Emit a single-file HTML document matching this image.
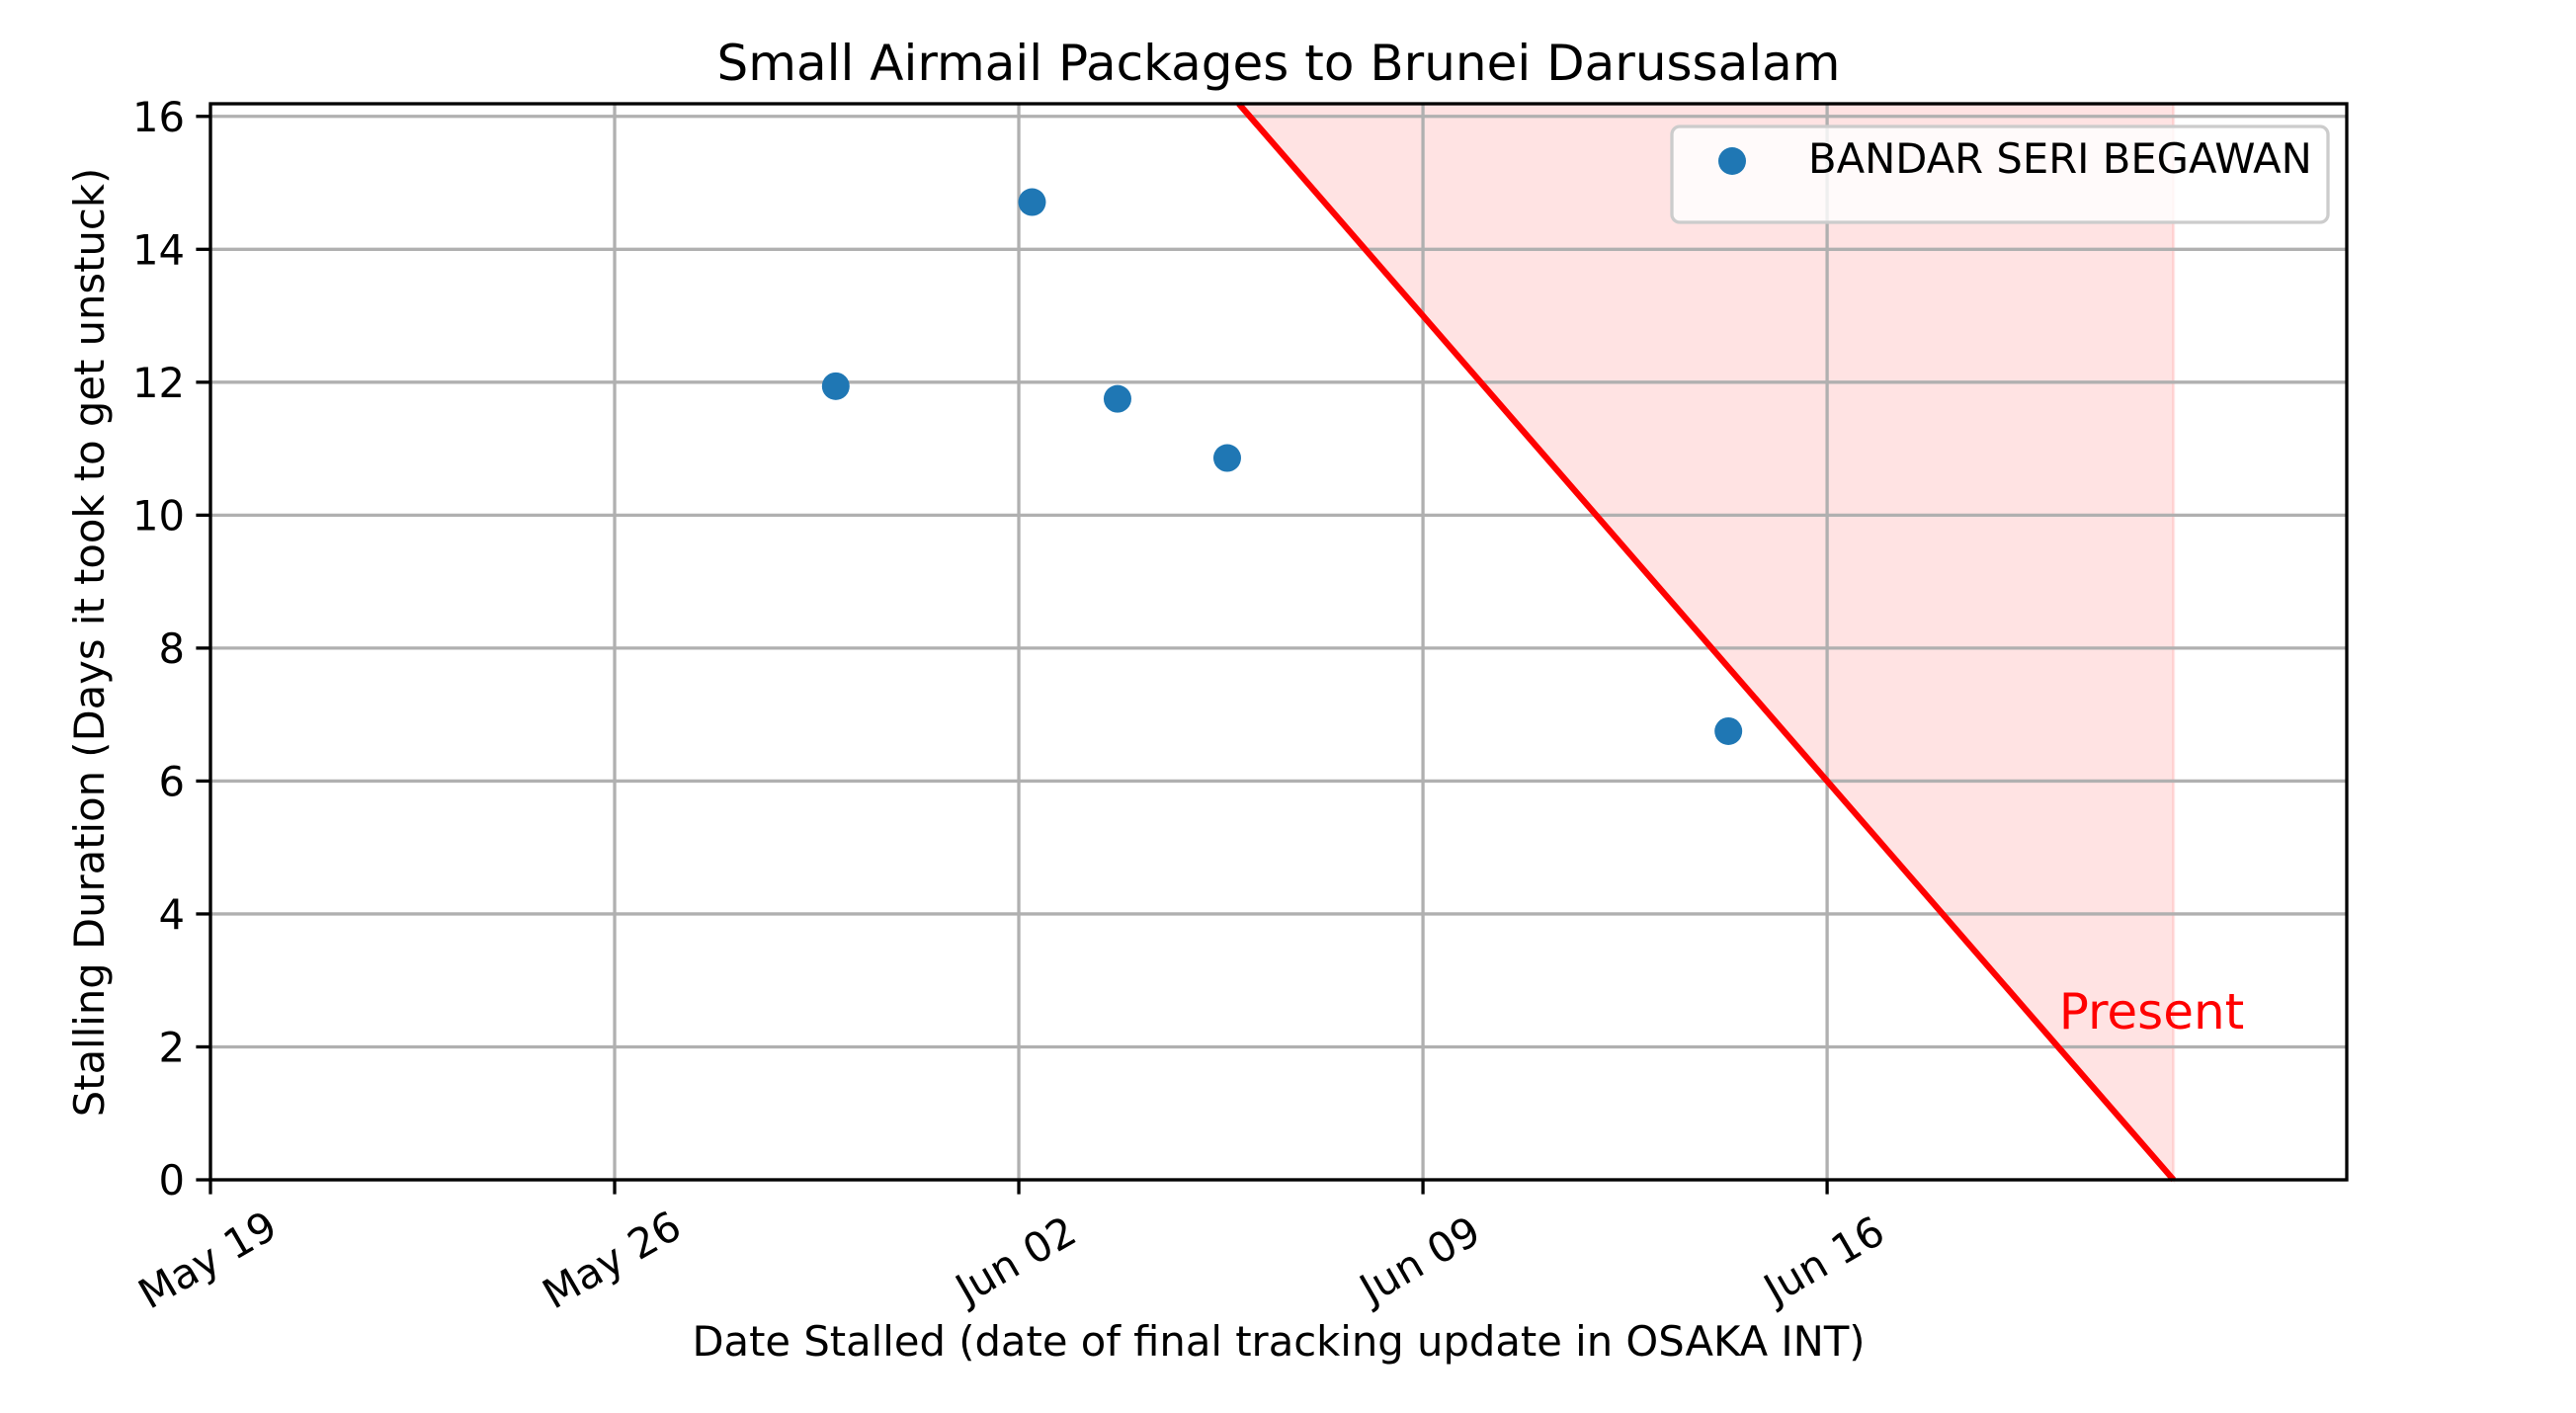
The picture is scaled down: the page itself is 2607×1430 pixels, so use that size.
<!DOCTYPE html>
<html><head><meta charset="utf-8"><title>Small Airmail Packages to Brunei Darussalam</title>
<style>html,body{margin:0;padding:0;background:#fff}svg{display:block;font-family:"DejaVu Sans","Liberation Sans",sans-serif}</style>
</head><body>
<svg id="chart" width="2607" height="1430" viewBox="0 0 2607 1430" xmlns="http://www.w3.org/2000/svg">
<rect width="2607" height="1430" fill="#fff"/>
<g id="fill"></g><g id="grid"></g><g id="marks"></g><g id="axes"></g>
<text x="1294" y="81" font-size="50" text-anchor="middle">Small Airmail Packages to Brunei Darussalam</text>
<text x="1294" y="1372" font-size="41.7" text-anchor="middle">Date Stalled (date of final tracking update in OSAKA INT)</text>
<text transform="translate(105,650) rotate(-90)" font-size="41.7" text-anchor="middle">Stalling Duration (Days it took to get unstuck)</text>
<g>
<rect x="1692" y="128" width="664" height="97" rx="8" fill="#fff" fill-opacity="0.8" stroke="#ccc" stroke-width="3.3"/>
<circle cx="1753" cy="163" r="14" fill="#1f77b4"/>
<text x="1830" y="175" font-size="41.7">BANDAR SERI BEGAWAN</text>
</g>
</svg>
<script>
// days since May 19
const xTickDays = [0, 7, 14, 21, 28];
const xTickLabels = ["May 19", "May 26", "Jun 02", "Jun 09", "Jun 16"];
const yTicks = [0, 2, 4, 6, 8, 10, 12, 14, 16];
const pointDays = [10.83, 14.23, 15.71, 17.61, 26.29];
const pointDurations = [11.94, 14.71, 11.75, 10.86, 6.75];
const presentDay = [34.0];

const L=213,R=2375,T=105,B=1194;
const xMin=0,xMax=37.0,yMin=0,yMax=16.19;
const X=d=>L+(d-xMin)/(xMax-xMin)*(R-L);
const Y=v=>B-(v-yMin)/(yMax-yMin)*(B-T);
const NS="http://www.w3.org/2000/svg";
function mk(tag,attrs,parent){const e=document.createElementNS(NS,tag);for(const k in attrs)e.setAttribute(k,attrs[k]);parent.appendChild(e);return e;}
const gF=document.getElementById('fill'),gG=document.getElementById('grid'),gM=document.getElementById('marks'),gA=document.getElementById('axes');

const P=presentDay[0];
const topDay=P-yMax;
const poly=mk('polygon',{points:`${X(topDay)},${Y(yMax)} ${X(P)},${Y(yMax)} ${X(P)},${Y(0)}`,fill:'rgba(255,0,0,0.11)',stroke:'rgba(255,0,0,0.1)','stroke-width':3},gF);



xTickDays.forEach((d,i)=>{
  const gl=mk('line',{x1:X(d),x2:X(d),y1:T,y2:B,stroke:'#b0b0b0','stroke-width':3.3},gG);
  
  
  const tk=mk('line',{x1:X(d),x2:X(d),y1:B,y2:B+14.6,stroke:'#000','stroke-width':3.3},gA);
  
  
  const t=mk('text',{x:X(d)-3,y:1275,'font-size':41.7,'text-anchor':'middle','dominant-baseline':'central',transform:`rotate(-30 ${X(d)-3} 1275)`},gA);
  t.textContent=xTickLabels[i];
  
  
});
yTicks.forEach(v=>{
  const gl=mk('line',{x1:L,x2:R,y1:Y(v),y2:Y(v),stroke:'#b0b0b0','stroke-width':3.3},gG);
  
  
  const tk=mk('line',{x1:L-14.6,x2:L,y1:Y(v),y2:Y(v),stroke:'#000','stroke-width':3.3},gA);
  
  
  const t=mk('text',{x:L-26,y:Y(v)+15,'font-size':41.7,'text-anchor':'end'},gA);
  t.textContent=String(v);
  
  
});

const ln=mk('line',{x1:X(topDay),y1:Y(yMax),x2:X(P),y2:Y(0),stroke:'#ff0000','stroke-width':6.25},gM);


const pt=mk('text',{x:X(P)-116,y:Y(2.35)+5,'font-size':50,fill:'#ff0000'},gM);
pt.textContent='Present';



pointDays.forEach((d,i)=>{
  const c=mk('circle',{cx:X(d),cy:Y(pointDurations[i]),r:14,fill:'#1f77b4'},gM);
  
  
});

const fr=mk('rect',{x:L,y:T,width:R-L,height:B-T,fill:'none',stroke:'#000','stroke-width':3.3},gA);


</script>
</body></html>
